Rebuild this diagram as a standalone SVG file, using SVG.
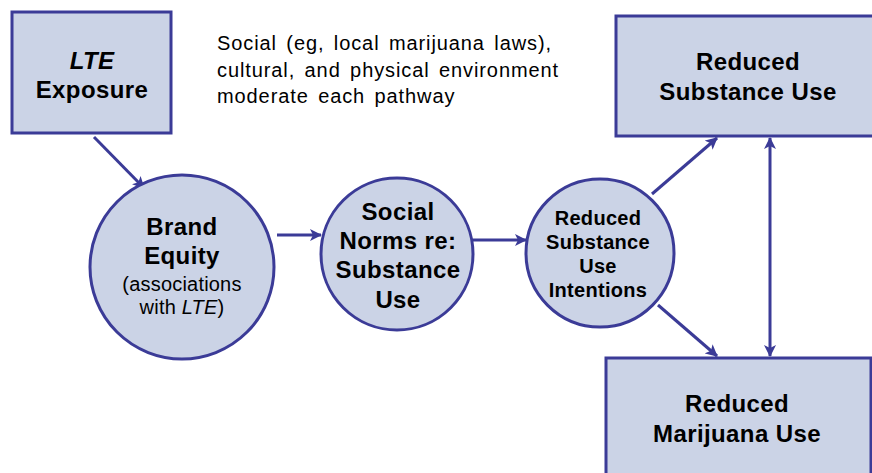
<svg xmlns="http://www.w3.org/2000/svg" width="872" height="473" viewBox="0 0 872 473">
  <defs>
    <style>
      .box { fill: #cbd3e6; stroke: #3b3b97; stroke-width: 3; }
      .circ { fill: #cbd3e6; stroke: #3b3b97; stroke-width: 3; }
      .edge { fill: none; stroke: #3b3b97; stroke-width: 3; }
      .t { font-family: "Liberation Sans", Arial, sans-serif; fill: #000; text-anchor: middle; }
      .b22 { font-size: 24px; font-weight: bold; letter-spacing: 0.4px; }
      .b18 { font-size: 20px; font-weight: bold; letter-spacing: 0.3px; }
      .r18 { font-size: 20px; letter-spacing: 0.2px; }
      .note { font-family: "Liberation Sans", Arial, sans-serif; font-size: 20px; letter-spacing: 0.9px; word-spacing: 3px; fill: #000; }
    </style>
    <marker id="arrow" viewBox="0 0 12 12" refX="11" refY="6" markerWidth="4" markerHeight="4" orient="auto-start-reverse" markerUnits="strokeWidth">
      <path d="M0,0 L12,6 L0,12 L3,6 Z" fill="#3b3b97"/>
    </marker>
  </defs>

  <rect width="872" height="473" fill="#ffffff"/>

  <!-- connectors -->
  <g id="connectors">
    <line class="edge" x1="94" y1="137" x2="144" y2="188" marker-end="url(#arrow)"/>
    <line class="edge" x1="277" y1="235" x2="321" y2="235" marker-end="url(#arrow)"/>
    <line class="edge" x1="473" y1="240" x2="526" y2="240" marker-end="url(#arrow)"/>
    <line class="edge" x1="652" y1="194" x2="717" y2="138" marker-end="url(#arrow)"/>
    <line class="edge" x1="658" y1="305" x2="717" y2="356" marker-end="url(#arrow)"/>
    <line class="edge" x1="770" y1="138" x2="770" y2="356" marker-start="url(#arrow)" marker-end="url(#arrow)"/>
  </g>

  <!-- exposure -->
  <g id="lte-exposure">
    <rect class="box" x="12" y="12" width="159" height="121"/>
    <text class="t b22" x="92" y="69" font-style="italic">LTE</text>
    <text class="t b22" x="92" y="98">Exposure</text>
  </g>

  <!-- moderators note -->
  <g id="moderators">
    <text class="note" x="217" y="50">Social (eg, local marijuana  laws),</text>
    <text class="note" x="217" y="77">cultural,  and physical environment</text>
    <text class="note" x="217" y="103">moderate  each pathway</text>
  </g>

  <g id="brand-equity">
    <circle class="circ" cx="182" cy="267" r="92"/>
    <text class="t b22" x="182" y="235">Brand</text>
    <text class="t b22" x="182" y="264">Equity</text>
    <text class="t r18" x="182" y="291">(associations</text>
    <text class="t r18" x="182" y="314">with <tspan font-style="italic">LTE</tspan>)</text>
  </g>

  <g id="social-norms">
    <circle class="circ" cx="397" cy="254" r="76"/>
    <text class="t b22" x="398" y="220">Social</text>
    <text class="t b22" x="398" y="249">Norms re:</text>
    <text class="t b22" x="398" y="278">Substance</text>
    <text class="t b22" x="398" y="308">Use</text>
  </g>

  <g id="intentions">
    <circle class="circ" cx="600" cy="253" r="74"/>
    <text class="t b18" x="598" y="225">Reduced</text>
    <text class="t b18" x="598" y="249">Substance</text>
    <text class="t b18" x="598" y="273">Use</text>
    <text class="t b18" x="598" y="297">Intentions</text>
  </g>

  <g id="substance-use">
    <rect class="box" x="616" y="16" width="270" height="120"/>
    <text class="t b22" x="748" y="70">Reduced</text>
    <text class="t b22" x="748" y="100">Substance Use</text>
  </g>

  <g id="marijuana-use">
    <rect class="box" x="606" y="358" width="265" height="130"/>
    <text class="t b22" x="737" y="412">Reduced</text>
    <text class="t b22" x="737" y="442">Marijuana Use</text>
  </g>
</svg>
